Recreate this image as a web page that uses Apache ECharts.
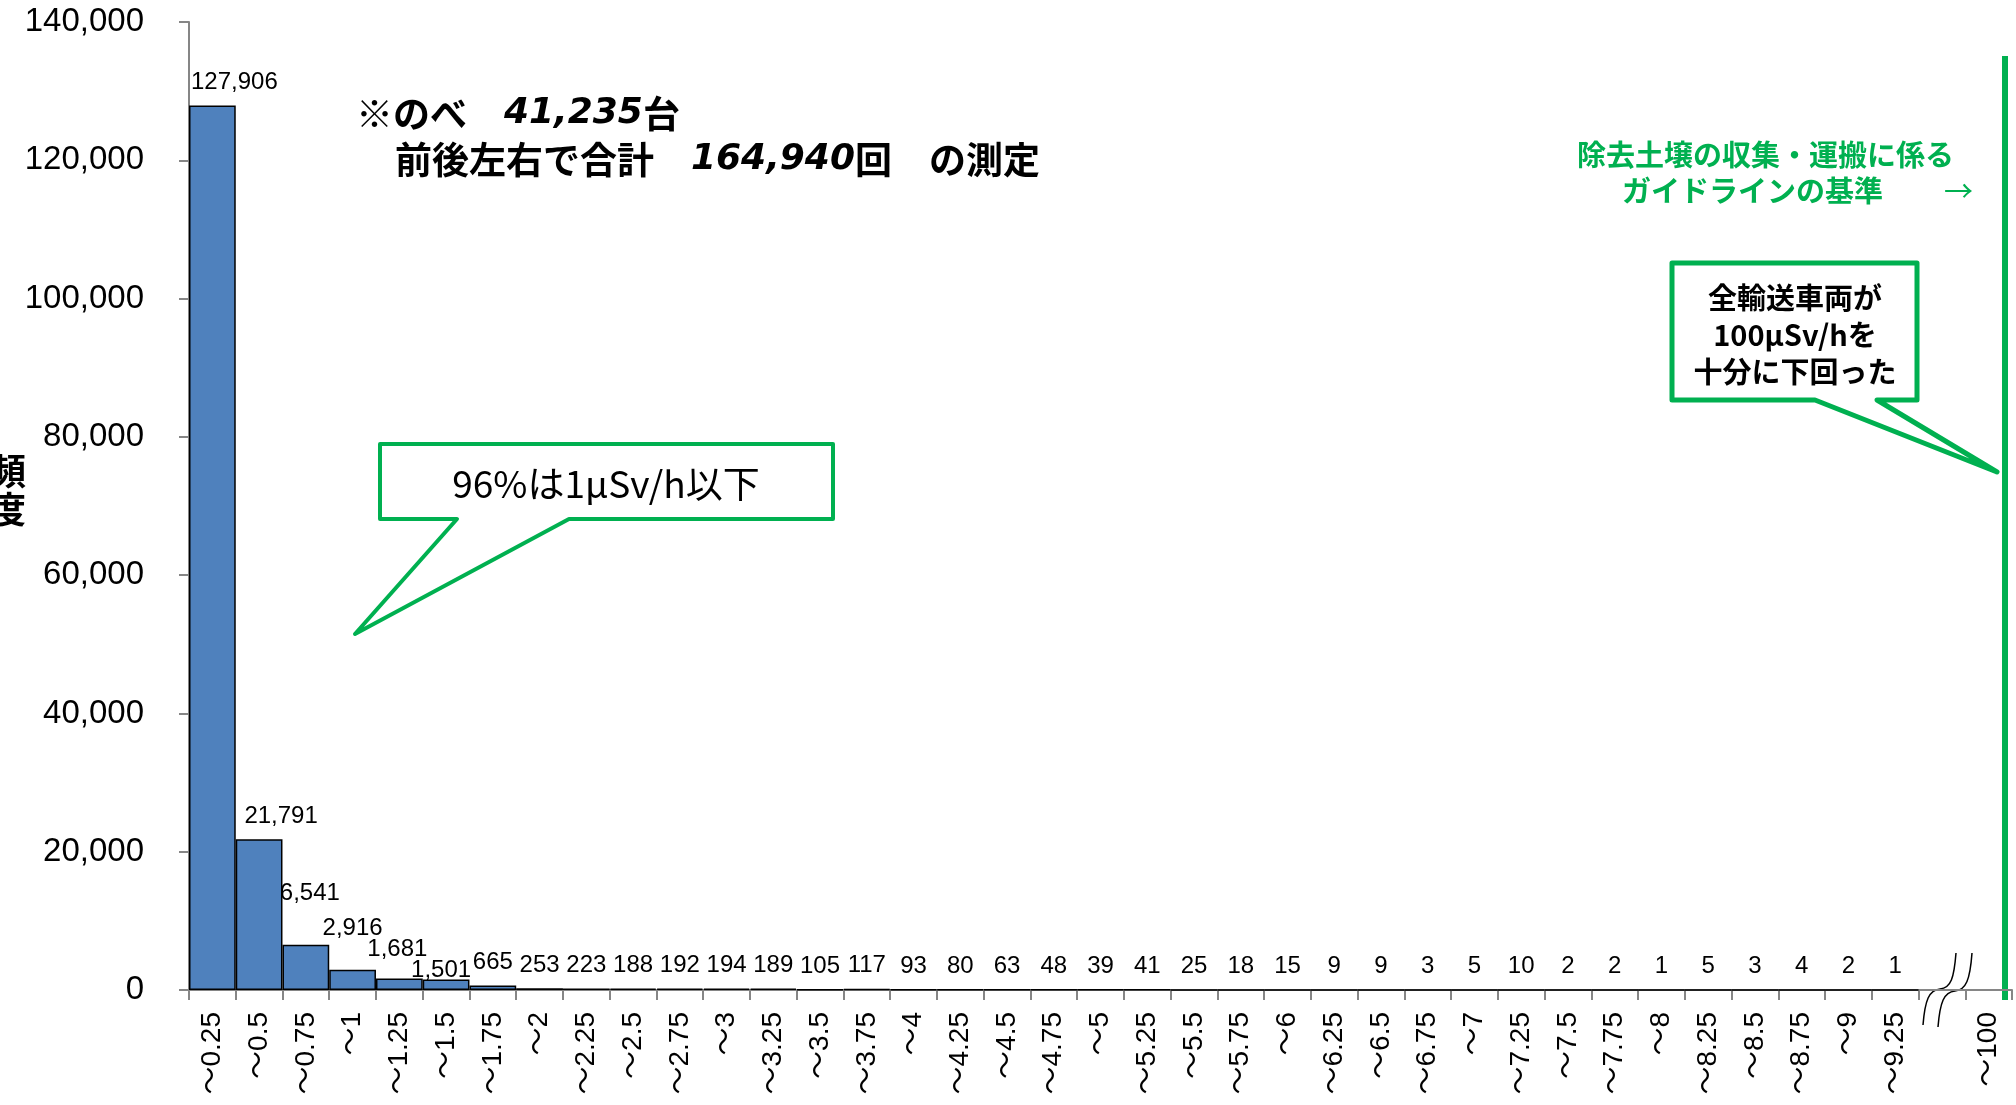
<!DOCTYPE html>
<html>
<head>
<meta charset="utf-8">
<script src="https://cdn.jsdelivr.net/npm/echarts@6/dist/echarts.min.js"></script>
<style>
html,body{margin:0;padding:0;background:#fff;}
#chart{width:2016px;height:1105px;}
</style>
</head>
<body>
<div id="chart"></div>
<script>
// Categories (μSv/h bins)
const categories = ['～0.25','～0.5','～0.75','～1','～1.25','～1.5','～1.75','～2','～2.25','～2.5','～2.75','～3','～3.25','～3.5','～3.75','～4','～4.25','～4.5','～4.75','～5','～5.25','～5.5','～5.75','～6','～6.25','～6.5','～6.75','～7','～7.25','～7.5','～7.75','～8','～8.25','～8.5','～8.75','～9','～9.25','','～100'];
// Frequencies
const counts = [127906,21791,6541,2916,1681,1501,665,253,223,188,192,194,189,105,117,93,80,63,48,39,41,25,18,15,9,9,3,5,10,2,2,1,5,3,4,2,1,null,null];
// Y axis ticks
const yMin = 0, yMax = 140000, yStep = 20000;

const green = '#00B050';
const cjk = '"Noto Sans CJK JP", sans-serif';

// label nudges as placed in the source (pixel offsets, by bar index)
const labelNudge = { 0: [22, 0], 1: [22, 0], 2: [4, -28], 3: [0, -18], 4: [-2, -6], 5: [-5, 14] };
const barData = counts.map((v, i) => labelNudge[i] ? { value: v, label: { offset: labelNudge[i] } } : v);

const chart = echarts.init(document.getElementById('chart'));
chart.setOption({
  backgroundColor: '#fff',
  animation: false,
  grid: { left: 189, right: 4, top: 22, bottom: 115, containLabel: false },
  xAxis: {
    type: 'category',
    data: categories,
    axisLine: { show: true, lineStyle: { color: '#868686', width: 2 } },
    axisTick: { show: true, alignWithLabel: false, interval: 0, length: 10, lineStyle: { color: '#868686', width: 2 } },
    axisLabel: { interval: 0, rotate: 90, margin: 22, fontSize: 28, color: '#000', fontFamily: '"Liberation Sans", "Noto Sans CJK JP", sans-serif' }
  },
  yAxis: {
    type: 'value',
    min: yMin, max: yMax, interval: yStep,
    axisLine: { show: true, lineStyle: { color: '#868686', width: 2 } },
    axisTick: { show: true, inside: false, length: 10, lineStyle: { color: '#868686', width: 2 } },
    splitLine: { show: false },
    axisLabel: { margin: 45, fontSize: 33, color: '#000', fontFamily: '"Liberation Sans", sans-serif',
      formatter: v => v.toLocaleString('en-US') }
  },
  series: [{
    type: 'bar',
    data: barData,
    barCategoryGap: '0%',
    itemStyle: { color: '#4F81BD', borderColor: '#000', borderWidth: 1.5 },
    label: { show: true, position: 'top', distance: 11, fontSize: 24, color: '#000',
      fontFamily: '"Liberation Sans", sans-serif',
      formatter: p => p.value == null ? '' : p.value.toLocaleString('en-US') }
  }],
  graphic: [
    // y axis name
    { type: 'text', left: -10, top: 452, style: { text: '頻\n度', fontSize: 36, lineHeight: 38, fontWeight: 'bold', fill: '#000', fontFamily: cjk } },
    // header note
    { type: 'text', x: 356, y: 95, style: {
        text: '※のべ　{n|41,235}台', fontSize: 37, fontWeight: 'bold', fill: '#000', fontFamily: cjk,
        rich: { n: { fontSize: 36, fontStyle: 'italic', fontWeight: 'bold', fontFamily: '"DejaVu Sans", sans-serif', fill: '#000' } } } },
    { type: 'text', x: 395, y: 141, style: {
        text: '前後左右で合計　{n|164,940}回　の測定', fontSize: 37, fontWeight: 'bold', fill: '#000', fontFamily: cjk,
        rich: { n: { fontSize: 36, fontStyle: 'italic', fontWeight: 'bold', fontFamily: '"DejaVu Sans", sans-serif', fill: '#000' } } } },
    // callout 1
    { type: 'polygon', shape: { points: [[380,444],[833,444],[833,519],[569,519],[355,634],[457,519],[380,519]] },
      style: { fill: '#fff', stroke: green, lineWidth: 4, lineJoin: 'round' } },
    { type: 'text', x: 606, y: 484, style: { text: '96%は1μSv/h以下', fontSize: 37, fill: '#000', fontFamily: cjk, align: 'center', verticalAlign: 'middle' } },
    // guideline text
    { type: 'text', x: 1577, y: 155, style: { text: '除去土壌の収集・運搬に係る', fontSize: 29, fontWeight: 'bold', fill: green, fontFamily: cjk, verticalAlign: 'middle' } },
    { type: 'text', x: 1622, y: 191, style: { text: 'ガイドラインの基準', fontSize: 29, fontWeight: 'bold', fill: green, fontFamily: cjk, verticalAlign: 'middle' } },
    { type: 'text', x: 1944, y: 191, style: { text: '→', fontSize: 29, fill: green, fontFamily: cjk, verticalAlign: 'middle' } },
    // green threshold line
    { type: 'line', shape: { x1: 2005, y1: 56, x2: 2005, y2: 1000 }, style: { stroke: green, lineWidth: 6 } },
    // callout 2
    { type: 'polygon', shape: { points: [[1672,263],[1917,263],[1917,400],[1877,400],[1997,472],[1815,400],[1672,400]] },
      style: { fill: '#fff', stroke: green, lineWidth: 5, lineJoin: 'round' } },
    { type: 'text', x: 1795, y: 335, style: { text: '全輸送車両が\n100μSv/hを\n十分に下回った', fontSize: 29, lineHeight: 37, fontWeight: 'bold', fill: '#000', fontFamily: cjk, align: 'center', verticalAlign: 'middle' } },
    // axis break marks
    { type: 'rect', shape: { x: 1940, y: 985, width: 15, height: 10 }, style: { fill: '#fff' } },
    { type: 'bezierCurve', shape: { x1: 1923, y1: 1025, cpx1: 1925, cpy1: 1000, cpx2: 1929, cpy2: 990, x2: 1940, y2: 989 }, style: { stroke: '#000', lineWidth: 1.5, fill: null } },
    { type: 'bezierCurve', shape: { x1: 1940, y1: 989, cpx1: 1951, cpy1: 988, cpx2: 1954, cpy2: 978, x2: 1956, y2: 953 }, style: { stroke: '#000', lineWidth: 1.5, fill: null } },
    { type: 'bezierCurve', shape: { x1: 1938, y1: 1027, cpx1: 1940, cpy1: 1002, cpx2: 1944, cpy2: 992, x2: 1955, y2: 991 }, style: { stroke: '#000', lineWidth: 1.5, fill: null } },
    { type: 'bezierCurve', shape: { x1: 1955, y1: 991, cpx1: 1966, cpy1: 990, cpx2: 1970, cpy2: 980, x2: 1972, y2: 953 }, style: { stroke: '#000', lineWidth: 1.5, fill: null } }
  ]
});
</script>
</body>
</html>
